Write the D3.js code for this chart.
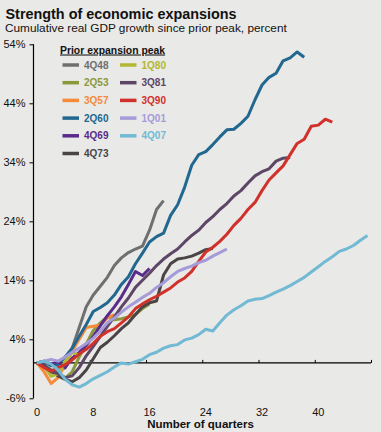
<!DOCTYPE html>
<html>
<head>
<meta charset="utf-8">
<script src="https://cdn.jsdelivr.net/npm/d3@7/dist/d3.min.js"></script>
<style>
  html, body { margin: 0; padding: 0; background: #e9e9e7; }
  svg { display: block; font-family: "Liberation Sans", Arial, sans-serif; }
</style>
</head>
<body>
<svg id="chart" width="381" height="432"></svg>
<script>
// ---- data ----
const seriesNames = ["4Q48", "2Q53", "3Q57", "2Q60", "4Q69", "4Q73", "1Q80", "3Q81", "3Q90", "1Q01", "4Q07"];
const s4Q48 = [0, -0.4, -1.2, -1.5, -0.8, 2.5, 6, 9.5, 11.5, 13, 14.5, 16.5, 17.8, 18.7, 19.3, 19.8, 22.5, 26, 27.5];
const s2Q53 = [0, -0.3, -1.5, -2.2, -2.6, -1.5, 1, 3.2, 5.5, 6.8, 7.8, 7.3, 7.5, 7.8, 8.2, 9.2, 10];
const s3Q57 = [0, -1.5, -3.5, -2.5, -0.2, 2, 4, 6, 6.2, 6.4, 7.6, 8.2];
const s2Q60 = [0, 0.3, -0.5, -0.3, 1.0, 2.5, 4.5, 6.5, 8.7, 9.4, 10.2, 11.5, 13.3, 14.6, 16.8, 18.6, 20.5, 21.4, 22.0, 25, 26.8, 29.8, 33.5, 35.3, 35.8, 37, 38.3, 39.5, 39.6, 40.6, 41.8, 44.6, 47.1, 48.4, 49.1, 51.2, 51.7, 52.7, 51.8];
const s4Q69 = [0, 0.3, -0.2, 0.2, -0.8, 0.8, 1.8, 3, 4.5, 6.3, 8, 9.5, 11.2, 13.3, 15.5, 14.8, 16];
const s4Q73 = [0, -0.5, -1.3, -2.2, -2.8, -3.2, -2.5, -1.2, 0.7, 2.6, 3.5, 4.6, 5.8, 6.8, 8.2, 9.5, 10.2, 10.5, 14.9, 16.8, 17.6, 17.8, 18.1, 18.6, 19.2, 19.4];
const s1Q80 = [0, -0.5, -2.3, -1.8, 0.2, 1.8, 1.3];
const s3Q81 = [0, -0.3, -1.5, -1.8, -2.5, -2.2, -0.8, 1.2, 2.8, 4.5, 6.2, 7.8, 9.5, 11, 12.8, 14, 15.2, 16.5, 17.6, 18.5, 19.3, 20.5, 21.6, 22.5, 23.8, 24.8, 26, 27, 28.3, 29.2, 30.5, 31.7, 32.4, 32.9, 34.2, 34.7, 34.8];
const s3Q90 = [0, -0.8, -1.4, -0.8, -0.3, 0.5, 1.5, 2.3, 3.3, 4.5, 5.3, 5.8, 6.8, 7.8, 9.2, 10, 10.7, 11.3, 12, 12.7, 13.7, 14.4, 15.5, 17.2, 18.8, 19.6, 20.6, 21.8, 23.3, 24.5, 26, 27.2, 29.2, 31, 32.2, 33.4, 35.3, 37.2, 37.9, 40.1, 40.3, 41.3, 40.8];
const s1Q01 = [0, 0.3, 0.6, 0.3, 1, 1.8, 2.5, 3.3, 4.2, 5.4, 6.8, 7.6, 8.6, 9.5, 10.3, 11.1, 11.8, 12.8, 13.6, 14.6, 15.5, 16, 16.4, 17, 17.4, 18.1, 18.7, 19.3];
const s4Q07 = [0, 0.3, -0.2, -1.2, -2.8, -3.7, -4.1, -3.5, -2.7, -2.1, -1.5, -0.7, 0, -0.2, 0.2, 0.6, 1.4, 1.8, 2.5, 2.9, 3.1, 3.9, 4.2, 4.8, 5.7, 5.4, 6.8, 8.1, 9, 9.7, 10.5, 10.8, 10.9, 11.4, 12, 12.5, 13.1, 13.8, 14.5, 15.4, 16.3, 17.2, 18, 18.9, 19.3, 19.9, 20.8, 21.6];
const seriesValues = [s4Q48, s2Q53, s3Q57, s2Q60, s4Q69, s4Q73, s1Q80, s3Q81, s3Q90, s1Q01, s4Q07];
const yTicks = [-6, 4, 14, 24, 34, 44, 54];
const xTickLabels = [0, 8, 16, 24, 32, 40];
const xTickMarks = [7.5, 15.5, 23.5, 31.5, 39.5, 47.5];

// ---- styles ----
const colors = ["#6f6f6f", "#8b983c", "#f58a3a", "#22678f", "#5a2c8a", "#4a4444", "#b3b733", "#5e4666", "#d1312b", "#a69bd9", "#72b9d3"];

const svg = d3.select("#chart");
const x = d3.scaleLinear().domain([-0.5, 47.5]).range([33.5, 371]);
const y = d3.scaleLinear().domain([-6, 54]).range([398.3, 44.3]);

// Titles
svg.append("text").attr("x", 5.5).attr("y", 18.5).attr("font-size", 14.4).attr("font-weight", "bold").attr("fill", "#111")
  .text("Strength of economic expansions");
svg.append("text").attr("x", 5).attr("y", 31.5).attr("font-size", 11.8).attr("fill", "#111")
  .text("Cumulative real GDP growth since prior peak, percent");

// Y axis
const yAxis = svg.append("g").attr("transform", `translate(${x(-0.5)},0)`)
  .call(d3.axisLeft(y).tickValues(yTicks).tickSize(4).tickPadding(4).tickFormat(d => d + "%"));
yAxis.select(".domain").attr("stroke", "#000").attr("stroke-width", 1.2).attr("d", `M-0.01,${y(54)}V${y(-6)}`);
yAxis.selectAll(".tick line").attr("stroke", "#000");
yAxis.selectAll(".tick text").attr("font-size", 11).attr("font-family", "Liberation Sans, Arial, sans-serif").attr("fill", "#111");

// X axis line at zero
const xAxis = svg.append("g").attr("transform", `translate(0,${y(0)})`)
  .call(d3.axisTop(x).tickValues(xTickMarks).tickSize(3).tickFormat(""));
xAxis.select(".domain").attr("stroke", "#000").attr("stroke-width", 1.2).attr("d", `M${x(-0.5)},0H${x(47.5)}`);
xAxis.selectAll(".tick line").attr("stroke", "#000");

// X tick labels
svg.append("g").selectAll("text").data(xTickLabels).join("text")
  .attr("x", d => x(d)).attr("y", 416).attr("text-anchor", "middle").attr("font-size", 11).attr("fill", "#111")
  .text(d => d);
svg.append("text").attr("x", 200.5).attr("y", 428).attr("text-anchor", "middle").attr("font-size", 11.5).attr("font-weight", "bold").attr("fill", "#111")
  .text("Number of quarters");

// Lines
const line = d3.line().x((d, i) => x(i)).y(d => y(d)).curve(d3.curveLinear);
svg.append("g").selectAll("path").data(seriesValues).join("path")
  .attr("d", line).attr("fill", "none")
  .attr("stroke", (d, i) => colors[i]).attr("stroke-width", 3).attr("stroke-linejoin", "round").attr("stroke-linecap", "butt");

// Legend
const lg = svg.append("g");
lg.append("text").attr("x", 60).attr("y", 53.5).attr("font-size", 10.4).attr("font-weight", "bold").attr("fill", "#111")
  .attr("text-decoration", "underline").text("Prior expansion peak");
seriesNames.forEach((name, i) => {
  const col = i < 6 ? 0 : 1;
  const row = i < 6 ? i : i - 6;
  const sx = col === 0 ? 62.5 : 120;
  const sy = 65 + row * 17.7;
  lg.append("line").attr("x1", sx).attr("x2", sx + 16.5).attr("y1", sy).attr("y2", sy)
    .attr("stroke", colors[i]).attr("stroke-width", 3.5);
  lg.append("text").attr("x", sx + 21.5).attr("y", sy + 3.6).attr("font-size", 10).attr("font-weight", "bold")
    .attr("fill", colors[i]).text(name);
});
</script>
</body>
</html>
